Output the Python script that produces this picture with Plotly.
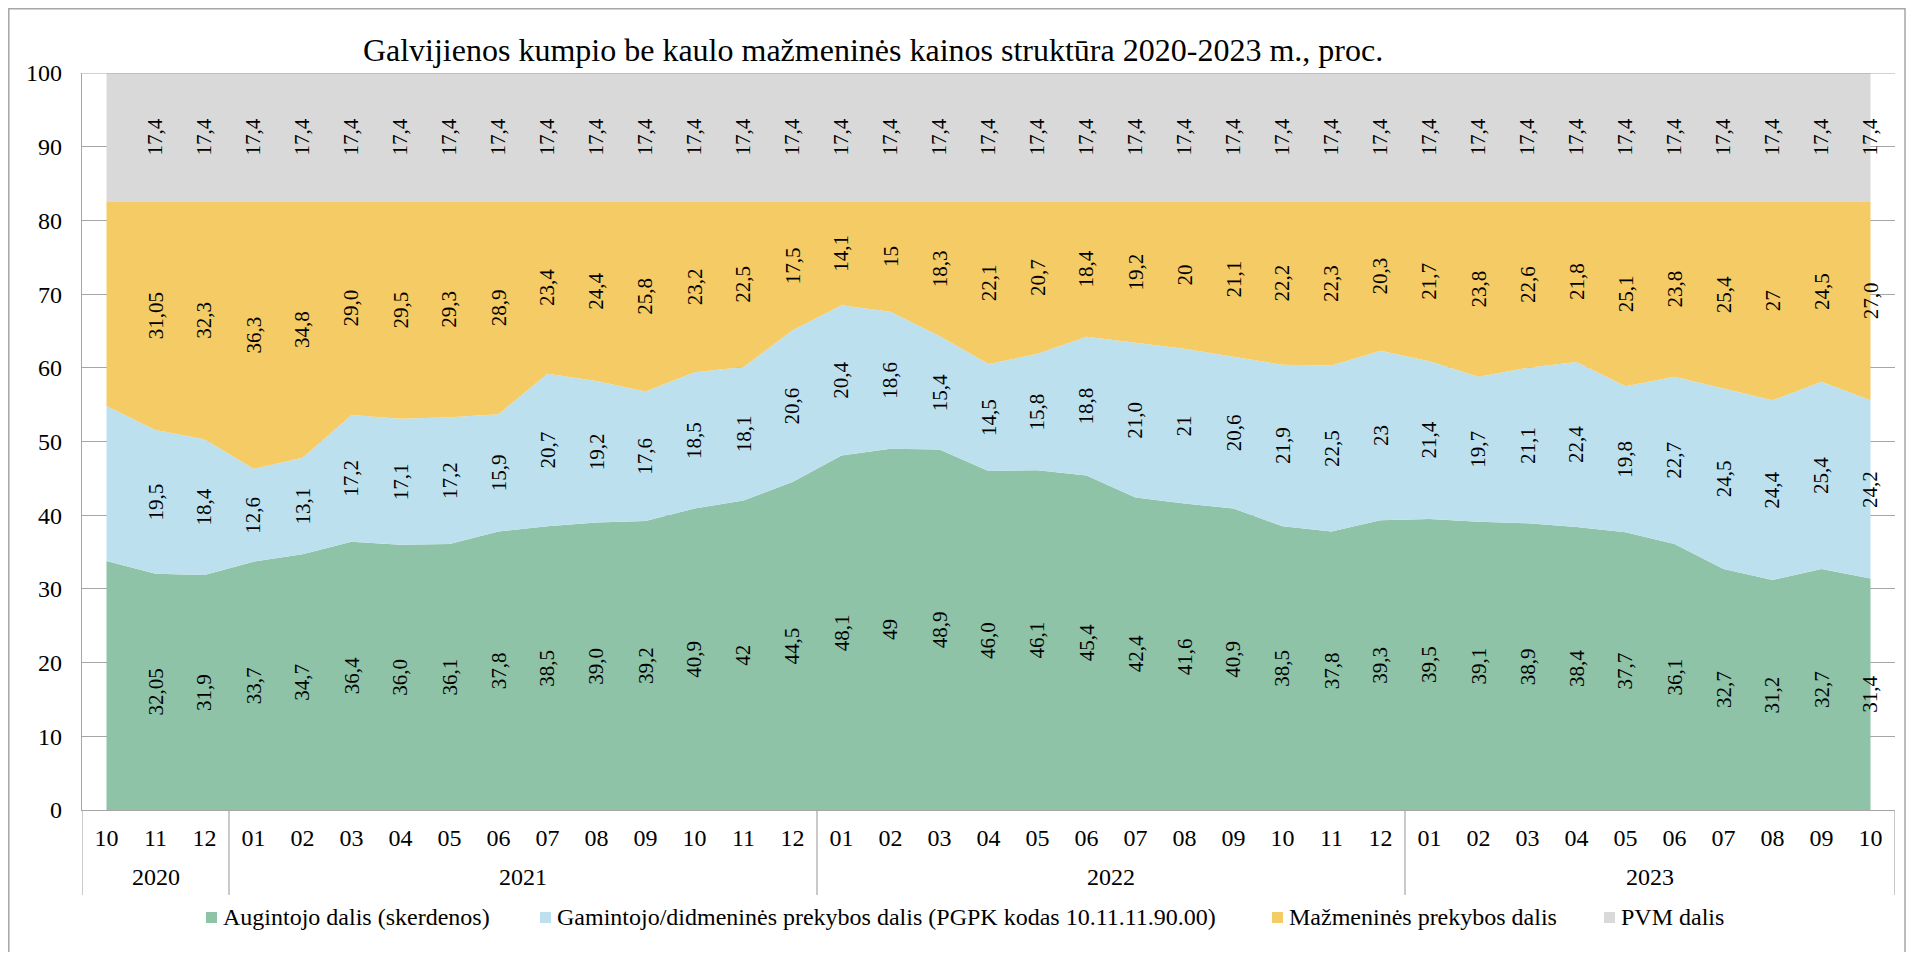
import plotly.graph_objects as go

# ---- data ----
years = ["2020", "2020", "2020",
         "2021", "2021", "2021", "2021", "2021", "2021", "2021", "2021", "2021", "2021", "2021", "2021",
         "2022", "2022", "2022", "2022", "2022", "2022", "2022", "2022", "2022", "2022", "2022", "2022",
         "2023", "2023", "2023", "2023", "2023", "2023", "2023", "2023", "2023", "2023"]
months = ["10", "11", "12",
          "01", "02", "03", "04", "05", "06", "07", "08", "09", "10", "11", "12",
          "01", "02", "03", "04", "05", "06", "07", "08", "09", "10", "11", "12",
          "01", "02", "03", "04", "05", "06", "07", "08", "09", "10"]

augintojo = [33.8, 32.05, 31.9,
             33.7, 34.7, 36.4, 36.0, 36.1, 37.8, 38.5, 39.0, 39.2, 40.9, 42, 44.5,
             48.1, 49, 48.9, 46.0, 46.1, 45.4, 42.4, 41.6, 40.9, 38.5, 37.8, 39.3,
             39.5, 39.1, 38.9, 38.4, 37.7, 36.1, 32.7, 31.2, 32.7, 31.4]
gamintojo = [21.0, 19.5, 18.4,
             12.6, 13.1, 17.2, 17.1, 17.2, 15.9, 20.7, 19.2, 17.6, 18.5, 18.1, 20.6,
             20.4, 18.6, 15.4, 14.5, 15.8, 18.8, 21.0, 21, 20.6, 21.9, 22.5, 23,
             21.4, 19.7, 21.1, 22.4, 19.8, 22.7, 24.5, 24.4, 25.4, 24.2]
mazmenines = [27.8, 31.05, 32.3,
              36.3, 34.8, 29.0, 29.5, 29.3, 28.9, 23.4, 24.4, 25.8, 23.2, 22.5, 17.5,
              14.1, 15, 18.3, 22.1, 20.7, 18.4, 19.2, 20, 21.1, 22.2, 22.3, 20.3,
              21.7, 23.8, 22.6, 21.8, 25.1, 23.8, 25.4, 27, 24.5, 27.0]
pvm = [17.4, 17.4, 17.4,
       17.4, 17.4, 17.4, 17.4, 17.4, 17.4, 17.4, 17.4, 17.4, 17.4, 17.4, 17.4,
       17.4, 17.4, 17.4, 17.4, 17.4, 17.4, 17.4, 17.4, 17.4, 17.4, 17.4, 17.4,
       17.4, 17.4, 17.4, 17.4, 17.4, 17.4, 17.4, 17.4, 17.4, 17.4]

series_names = ["Augintojo dalis (skerdenos)",
                "Gamintojo/didmeninės prekybos dalis (PGPK kodas 10.11.11.90.00)",
                "Mažmeninės prekybos dalis",
                "PVM dalis"]
series_values = [augintojo, gamintojo, mazmenines, pvm]
series_colors = ["#8EC3A7", "#BDE0EF", "#F4CB64", "#D9D9D9"]

title_text = "Galvijienos kumpio be kaulo mažmeninės kainos struktūra 2020-2023 m., proc."

FONT = "Liberation Serif, Times New Roman, serif"
GRID = "#A6A6A6"

n = len(months)
xs = list(range(n))

fig = go.Figure()

# stacked areas
for name, vals, col in zip(series_names, series_values, series_colors):
    fig.add_trace(go.Scatter(
        x=xs, y=vals, name=name, stackgroup="one",
        mode="none", fillcolor=col, showlegend=False,
        customdata=[[y, m] for y, m in zip(years, months)],
        hovertemplate="%{customdata[0]}-%{customdata[1]}: %{y}<extra>" + name + "</extra>"))

# page geometry: the figure sits at an 8px body offset in the page
OFF = 8
W, H = 1914 - 2 * OFF, 960 - 2 * OFF
PL, PR, PT, PB = 82, 1895, 73, 810          # plot area edges in page pixels
L, T = PL - OFF, PT - OFF
R, B = W - (PR - OFF), H - (PB - OFF)
pw, ph = PR - PL, PB - PT

def px_x(p):
    return (p - PL) / pw

def px_y(p):
    return (PB - p) / ph

annotations = []
# value labels (centered in each band, rotated)
for i in range(n):
    base = 0.0
    for vals in series_values:
        v = vals[i]
        mid = base + v / 2.0
        base += v
        if i == 0:
            continue
        annotations.append(dict(
            x=i, y=mid, xref="x", yref="y", text=str(v).replace(".", ","),
            showarrow=False, textangle=-90,
            font=dict(family=FONT, size=21, color="black")))

# year group labels and dividers
groups = []
for i, y in enumerate(years):
    if not groups or groups[-1][0] != y:
        groups.append([y, i, i])
    else:
        groups[-1][2] = i

shapes = [
    dict(type="rect", xref="paper", yref="paper",
         x0=px_x(OFF + 0.8), x1=px_x(1905), y0=px_y(975), y1=px_y(OFF + 0.8),
         line=dict(color=GRID, width=1.5), layer="below"),
    dict(type="line", xref="paper", yref="y", x0=0, x1=1, y0=100, y1=100,
         line=dict(color=GRID, width=1.2), layer="above"),
]
for y, i0, i1 in groups:
    annotations.append(dict(
        x=(i0 + i1) / 2.0, y=px_y(877), xref="x", yref="paper", text=y,
        showarrow=False, yanchor="middle",
        font=dict(family=FONT, size=24, color="black")))
    shapes.append(dict(type="line", xref="x", yref="paper", x0=i0 - 0.5, x1=i0 - 0.5,
                       y0=0, y1=px_y(895), line=dict(color=GRID, width=1.2)))
shapes.append(dict(type="line", xref="x", yref="paper", x0=n - 0.5, x1=n - 0.5,
                   y0=0, y1=px_y(895), line=dict(color=GRID, width=1.2)))

# legend (square keys + text)
legend_square_x = [206, 540, 1272, 1604]
for name, col, sx in zip(series_names, series_colors, legend_square_x):
    shapes.append(dict(type="rect", xref="paper", yref="paper",
                       x0=px_x(sx), x1=px_x(sx + 11), y0=px_y(923), y1=px_y(912),
                       fillcolor=col, line=dict(width=0)))
    annotations.append(dict(
        x=px_x(sx + 15), y=px_y(917), xref="paper", yref="paper", text=name,
        showarrow=False, xanchor="left", yanchor="middle",
        font=dict(family=FONT, size=24, color="black")))

fig.update_layout(
    width=W, height=H,
    margin=dict(l=L, r=R, t=T, b=B, autoexpand=False),
    paper_bgcolor="white", plot_bgcolor="white",
    font=dict(family=FONT, size=24, color="black"),
    title=dict(text=title_text, x=(873 - OFF) / W, xanchor="center", xref="container",
               y=1 - (50 - OFF) / H, yanchor="middle", yref="container",
               font=dict(family=FONT, size=32, color="black")),
    xaxis=dict(range=[-0.5, n - 0.5], tickmode="array", tickvals=xs, ticktext=months,
               showline=True, linecolor=GRID, linewidth=1.2,
               showgrid=False, zeroline=False, ticks="", ticklabelstandoff=6,
               tickfont=dict(family=FONT, size=24, color="black")),
    yaxis=dict(range=[0, 100], dtick=10, tick0=0, showgrid=True, gridcolor=GRID, gridwidth=1.2,
               showline=True, linecolor=GRID, linewidth=1.2, zeroline=False, ticks="",
               ticklabelstandoff=14, tickfont=dict(family=FONT, size=24, color="black")),
    annotations=annotations,
    shapes=shapes,
    showlegend=False,
)

fig.write_html("out.html")
